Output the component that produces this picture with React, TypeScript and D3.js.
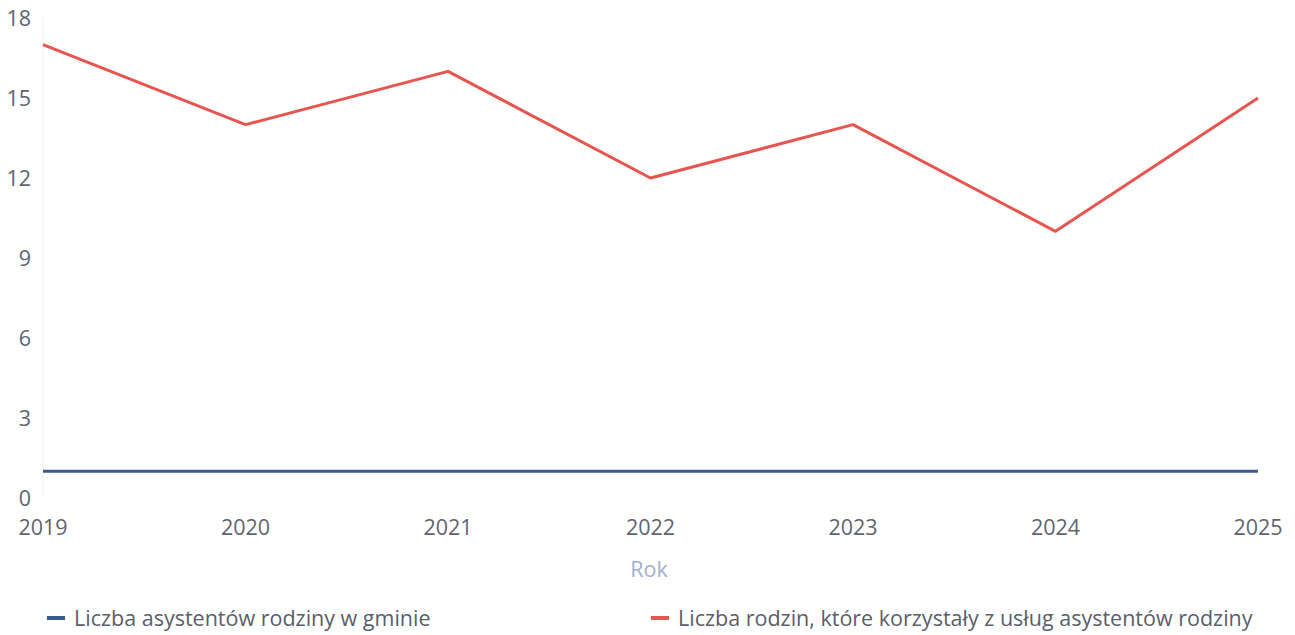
import React, { useEffect, useRef } from 'react';
import * as d3 from 'd3';

const years = [2019, 2020, 2021, 2022, 2023, 2024, 2025];
const assistants = [1, 1, 1, 1, 1, 1, 1];
const families = [17, 14, 16, 12, 14, 10, 15];
const yTicks = [0, 3, 6, 9, 12, 15, 18];

const seriesNames = [
  'Liczba asystentów rodziny w gminie',
  'Liczba rodzin, które korzystały z usług asystentów rodziny',
];
const seriesColors = ['#3b5b8f', '#e85550'];

const W = 1295;
const H = 635;
const margin = { left: 43, right: 37, top: 18, bottom: 137 };
const FONT = '"Open Sans", "Noto Sans", sans-serif';
const FS = 21.5;

export default function App() {
  const svgRef = useRef<SVGSVGElement>(null);

  useEffect(() => {
    if (svgRef.current === null) {
      return;
    }
    const svg = d3.select(svgRef.current);
    svg.selectAll('*').remove();

    const x = d3
      .scaleLinear()
      .domain([years[0], years[years.length - 1]])
      .range([margin.left, W - margin.right]);
    const y = d3
      .scaleLinear()
      .domain([0, 18])
      .range([H - margin.bottom, margin.top]);

    // faint axis line at left
    svg
      .append('line')
      .attr('x1', margin.left)
      .attr('x2', margin.left)
      .attr('y1', margin.top)
      .attr('y2', H - margin.bottom)
      .attr('stroke', '#f0f0f0')
      .attr('stroke-width', 1);

    // y tick labels
    svg
      .append('g')
      .selectAll('text')
      .data(yTicks)
      .join('text')
      .attr('x', 31)
      .attr('y', (d) => y(d))
      .attr('dy', '0.35em')
      .attr('text-anchor', 'end')
      .style('font', `${FS}px ${FONT}`)
      .attr('fill', '#5f6470')
      .text((d) => d);

    // x tick labels
    svg
      .append('g')
      .selectAll('text')
      .data(years)
      .join('text')
      .attr('x', (d) => x(d))
      .attr('y', 527)
      .attr('dy', '0.35em')
      .attr('text-anchor', 'middle')
      .style('font', `${FS}px ${FONT}`)
      .attr('fill', '#5f6470')
      .text((d) => d);

    svg
      .append('text')
      .attr('x', 649)
      .attr('y', 569)
      .attr('dy', '0.35em')
      .attr('text-anchor', 'middle')
      .style('font', `${FS}px ${FONT}`)
      .attr('fill', '#9fb0d2')
      .text('Rok');

    const line = d3
      .line<number>()
      .x((_, i) => x(years[i]))
      .y((d) => y(d));

    [assistants, families].forEach((vals, k) => {
      svg
        .append('path')
        .datum(vals)
        .attr('fill', 'none')
        .attr('stroke', seriesColors[k])
        .attr('stroke-width', 3)
        .attr('stroke-linejoin', 'round')
        .attr('d', line);
    });

    // legend
    const legendX = [47, 651];
    const lg = svg
      .append('g')
      .selectAll('g')
      .data(seriesNames)
      .join('g')
      .attr('transform', (_, i) => `translate(${legendX[i]},618)`);
    lg.append('line')
      .attr('x1', 0)
      .attr('x2', 18)
      .attr('stroke', (_, i) => seriesColors[i])
      .attr('stroke-width', 4);
    lg.append('text')
      .attr('x', 27)
      .attr('dy', '0.35em')
      .style('font', `${FS}px ${FONT}`)
      .attr('fill', '#5a5f6b')
      .text((d) => d);
  }, []);

  return (
    <svg
      ref={svgRef}
      width={W}
      height={H}
      style={{ position: 'absolute', left: 0, top: 0, background: '#fff' }}
    />
  );
}
